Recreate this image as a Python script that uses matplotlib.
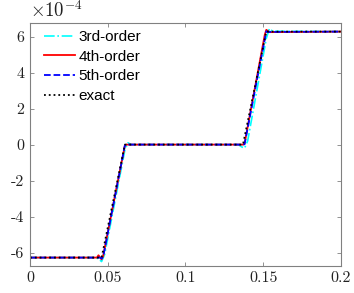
import numpy as np
import matplotlib
matplotlib.use('Agg')
from matplotlib import pyplot as plt

plt.rcParams['mathtext.fontset'] = 'cm'

# node values, y in units of 1e-4
x_exact = [0.0, 0.046, 0.061, 0.137, 0.152, 0.2]
y_exact = [-6.28, -6.28, 0.0, 0.0, 6.28, 6.28]

x_3rd = [0.0, 0.042, 0.044, 0.046, 0.048, 0.061, 0.063, 0.065, 0.134, 0.136, 0.138, 0.140, 0.152, 0.154, 0.156, 0.2]
y_3rd = [-6.28, -6.28, -6.35, -6.5, -6.1, -0.3, 0.1, 0.0, 0.0, -0.12, -0.2, 0.2, 5.9, 6.45, 6.3, 6.28]

x_4th = [0.0, 0.043, 0.044, 0.046, 0.047, 0.061, 0.062, 0.137, 0.138, 0.151, 0.152, 0.154, 0.2]
y_4th = [-6.28, -6.28, -6.15, -6.38, -6.2, -0.05, 0.0, 0.0, 0.05, 6.1, 6.38, 6.25, 6.28]

x_5th = [0.0, 0.045, 0.046, 0.047, 0.061, 0.062, 0.137, 0.138, 0.152, 0.153, 0.2]
y_5th = [-6.28, -6.28, -6.33, -6.25, -0.04, 0.0, 0.0, 0.02, 6.3, 6.26, 6.28]

xticks = [0, 0.05, 0.1, 0.15, 0.2]
xticklabels = ['0', '0.05', '0.1', '0.15', '0.2']
yticks = [-6, -4, -2, 0, 2, 4, 6]
yticklabels = ['-6', '-4', '-2', '0', '2', '4', '6']

fig = plt.figure(figsize=(3.54, 2.93), dpi=100)
ax = fig.add_axes([0.085, 0.092, 0.878, 0.829])

ax.plot(x_3rd, y_3rd, color='cyan', linestyle='-.', linewidth=1.2, label='3rd-order')
ax.plot(x_4th, y_4th, color='red', linestyle='-', linewidth=1.3, label='4th-order')
ax.plot(x_5th, y_5th, color='blue', linestyle='--', linewidth=1.3, label='5th-order')
ax.plot(x_exact, y_exact, color='black', linestyle=':', linewidth=1.3, label='exact')

ax.set_xlim(0, 0.2)
ax.set_ylim(-6.75, 6.75)
ax.set_xticks(xticks)
ax.set_xticklabels(xticklabels, fontfamily='cmr10', fontsize=11.5, color='#222222')
ax.set_yticks(yticks)
ax.set_yticklabels(yticklabels, fontfamily='cmr10', fontsize=11.5, color='#222222')
ax.tick_params(direction='in', top=True, right=True, length=3, width=0.6,
               color='#808080', pad=4)
for sp in ax.spines.values():
    sp.set_color('#808080')
    sp.set_linewidth(0.8)

ax.text(0.0, 1.01, r'$\times 10^{-4}$', transform=ax.transAxes,
        fontsize=13.5, ha='left', va='bottom', color='#222222')

leg = ax.legend(loc='upper left', bbox_to_anchor=(0.016, 1.01), frameon=False,
                prop={'family': 'Liberation Sans', 'size': 11},
                handlelength=2.0, handletextpad=0.25, labelspacing=0.38,
                borderaxespad=0.2)

fig.savefig('out.png', dpi=100)
